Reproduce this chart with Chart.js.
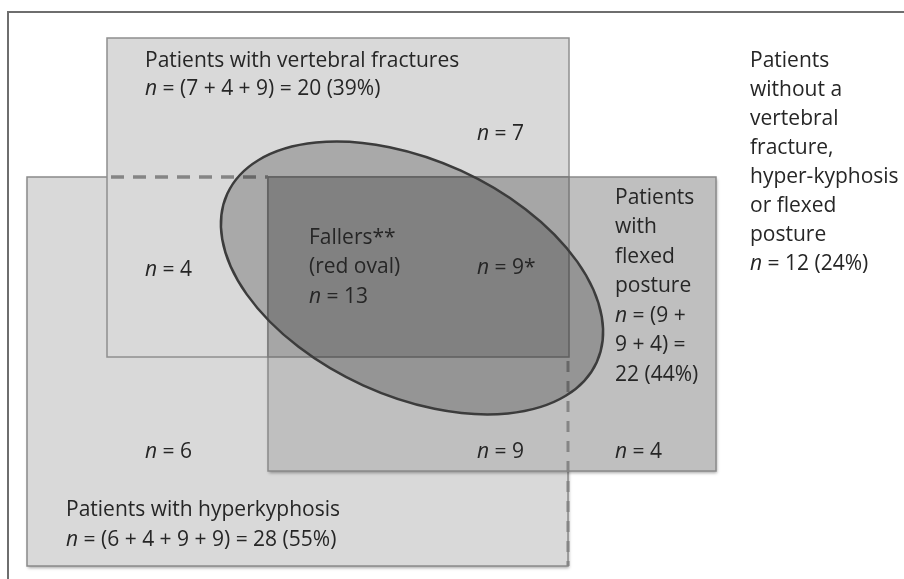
<!DOCTYPE html>
<html>
<head>
<meta charset="utf-8">
<script src="https://cdn.jsdelivr.net/npm/chart.js@4.4.0/dist/chart.umd.min.js"></script>
<style>
  html, body { margin: 0; padding: 0; background: #fff; }
  #wrap { width: 904px; height: 579px; position: relative; }
</style>
</head>
<body>
<div id="wrap"><canvas id="venn"></canvas></div>
<script>
// region counts: vertebral only, vertebral+hyperkyphosis, all three, hyperkyphosis only,
// hyperkyphosis+flexed, flexed only, none of them
const regionCounts = [7, 4, 9, 6, 9, 4, 12];
const fallerCount = 13;
// totals: vertebral fractures, hyperkyphosis, flexed posture
const groupTotals = [20, 28, 22];
const groupPercents = [39, 55, 44];
const nonePercent = 24;

// where the region counts are written (chart units = pixels, y down)
const countX = [477, 145, 477, 145, 477, 615];
const countY = [134, 270, 268, 452, 452, 452];
const countSuffix = ['', '', '*', '', '', ''];

// boxes: [x1, y1, x2, y2]
const boxHyper = [27, 177, 568, 566];
const boxVert = [107, 38, 569, 357];
const boxFlex = [268, 177, 716, 471];
const oval = { cx: 412, cy: 278, rx: 203, ry: 118, rot: 24.5 };

const FONT = '"Open Sans", Lato, sans-serif';
const SIZE = 21;

function richLine(ctx, parts, x, y) {
  let cx = x;
  parts.forEach(p => {
    ctx.font = (p.it ? 'italic ' : '') + SIZE + 'px ' + FONT;
    ctx.fillText(p.t, cx, y);
    cx += ctx.measureText(p.t).width;
  });
}
function nLine(rest) { return [{ t: 'n', it: true }, { t: ' = ' + rest }]; }
function plain(t) { return [{ t: t }]; }

const vennPlugin = {
  id: 'venn',
  beforeDatasetsDraw(chart) {
    const ctx = chart.ctx;
    const sx = chart.scales.x, sy = chart.scales.y;
    const px = v => sx.getPixelForValue(v), py = v => sy.getPixelForValue(v);
    const rect = (b, fill, stroke, lw, shadow) => {
      ctx.save();
      if (shadow) {
        ctx.shadowColor = 'rgba(0,0,0,0.35)';
        ctx.shadowBlur = 3;
        ctx.shadowOffsetX = 1;
        ctx.shadowOffsetY = 2;
      }
      ctx.fillStyle = fill;
      ctx.fillRect(px(b[0]), py(b[1]), px(b[2]) - px(b[0]), py(b[3]) - py(b[1]));
      ctx.restore();
      if (stroke) {
        ctx.save();
        ctx.strokeStyle = stroke;
        ctx.lineWidth = lw;
        ctx.strokeRect(px(b[0]), py(b[1]), px(b[2]) - px(b[0]), py(b[3]) - py(b[1]));
        ctx.restore();
      }
    };

    // outer frame
    ctx.save();
    ctx.strokeStyle = '#6e6e6e';
    ctx.lineWidth = 2;
    ctx.strokeRect(px(8), py(12), px(920) - px(8), py(600) - py(12));
    ctx.restore();

    rect(boxHyper, '#d9d9d9', '#8a8a8a', 1.5, true);
    rect(boxVert, '#d9d9d9', '#8f8f8f', 1.5, false);
    rect(boxFlex, '#bfbfbf', '#8a8a8a', 1.5, true);
    // triple overlap
    const tri = [boxFlex[0], boxFlex[1], boxVert[2], boxVert[3]];
    rect(tri, '#a6a6a6', '#7a7a7a', 1.5, false);

    // hidden edges of the hyperkyphosis box
    ctx.save();
    ctx.strokeStyle = '#858585';
    ctx.lineWidth = 3.5;
    ctx.setLineDash([13, 9]);
    ctx.beginPath();
    ctx.moveTo(px(boxVert[0] + 4), py(boxHyper[1]));
    ctx.lineTo(px(boxFlex[0]), py(boxHyper[1]));
    ctx.stroke();
    ctx.lineWidth = 3;
    ctx.setLineDash([11, 9]);
    ctx.beginPath();
    ctx.moveTo(px(boxHyper[2]), py(boxVert[3] + 4));
    ctx.lineTo(px(boxHyper[2]), py(boxHyper[3]));
    ctx.stroke();
    ctx.restore();

    // fallers oval
    ctx.save();
    ctx.beginPath();
    ctx.ellipse(px(oval.cx), py(oval.cy), px(oval.cx + oval.rx) - px(oval.cx),
      py(oval.cy + oval.ry) - py(oval.cy), oval.rot * Math.PI / 180, 0, Math.PI * 2);
    ctx.fillStyle = 'rgba(0,0,0,0.22)';
    ctx.fill();
    ctx.strokeStyle = '#3c3c3c';
    ctx.lineWidth = 2.5;
    ctx.stroke();
    ctx.restore();

    // texts
    ctx.save();
    ctx.fillStyle = '#262626';
    ctx.textBaseline = 'middle';
    ctx.textAlign = 'left';
    const block = (lines, x, y0, gap) => lines.forEach((l, i) => richLine(ctx, l, px(x), py(y0 + i * gap)));

    const r = regionCounts;
    block([plain('Patients with vertebral fractures'),
      nLine('(' + r[0] + ' + ' + r[1] + ' + ' + r[2] + ') = ' + groupTotals[0] + ' (' + groupPercents[0] + '%)')],
      145, 61, 28.5);
    block([plain('Patients with hyperkyphosis'),
      nLine('(' + r[3] + ' + ' + r[1] + ' + ' + r[2] + ' + ' + r[4] + ') = ' + groupTotals[1] + ' (' + groupPercents[1] + '%)')],
      66, 510, 30.5);
    block([plain('Patients'), plain('with'), plain('flexed'), plain('posture'),
      nLine('(' + r[2] + ' +'), plain(r[4] + ' + ' + r[5] + ') ='), plain(groupTotals[2] + ' (' + groupPercents[2] + '%)')],
      615, 198, 29.5);
    block([plain('Patients'), plain('without a'), plain('vertebral'), plain('fracture,'),
      plain('hyper-kyphosis'), plain('or flexed'), plain('posture'), nLine(r[6] + ' (' + nonePercent + '%)')],
      750, 61, 29);
    block([plain('Fallers**'), plain('(red oval)'), nLine(String(fallerCount))], 309, 238, 29.5);

    // region counts at the dataset points
    const meta = chart.getDatasetMeta(0);
    meta.data.forEach((pt, i) => {
      richLine(ctx, nLine(chart.data.datasets[0].data[i].n + countSuffix[i]), pt.x, pt.y);
    });
    ctx.restore();
  }
};

const countPoints = countX.map((x, i) => ({ x: x, y: countY[i], n: regionCounts[i] }));

new Chart(document.getElementById('venn'), {
  type: 'scatter',
  data: {
    datasets: [{ data: countPoints, pointRadius: 0, showLine: false }]
  },
  options: {
    responsive: true,
    maintainAspectRatio: false,
    animation: false,
    layout: { padding: 0 },
    plugins: { legend: { display: false }, tooltip: { enabled: false } },
    scales: {
      x: { type: 'linear', min: 0, max: 904, display: false },
      y: { type: 'linear', min: 0, max: 579, reverse: true, display: false }
    }
  },
  plugins: [vennPlugin]
});
</script>
</body>
</html>
